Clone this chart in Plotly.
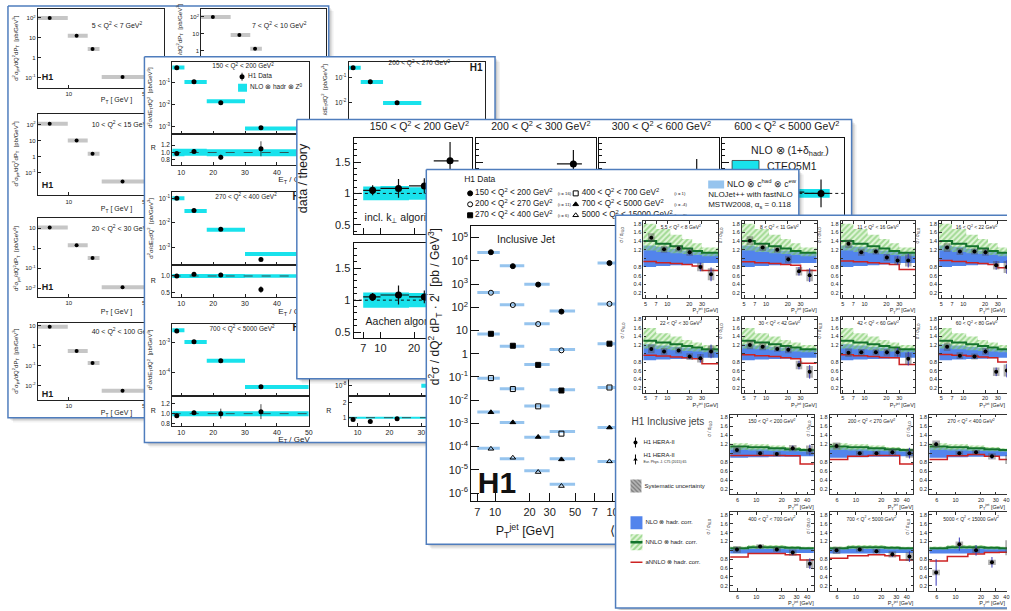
import plotly.graph_objects as go

W, H = 1011, 611
FONT = "Liberation Sans, Arial, Helvetica, sans-serif"
INK = "#1a1a1a"
BORDER = "rgb(79,125,189)"
CYAN = "rgb(25,226,236)"
LIGHTBLUE = "rgb(150,196,238)"
GREY_BAND = "rgb(198,198,198)"
NLO_BLUE = "rgb(82,132,236)"
HATCH_GREEN = "rgb(95,190,75)"
DARK_GREEN = "rgb(20,115,45)"
RED = "rgb(205,35,35)"
ERR_BLUE = "rgb(55,55,185)"

# ---------------- Card 1 : low Q2 jets vs P_T ----------------
C1_PT = [6.7, 11.8, 16.5, 31.0]
C1_PT_LO = [5.2, 9.8, 14.9, 20.0]
C1_PT_HI = [9.8, 14.9, 19.1, 80.0]
C1_XS_5_7 = [100.0, 12.6, 2.8, 0.11]
C1_XS_10_15 = [115.0, 10.0, 1.5, 0.027]
C1_XS_20_30 = [11.0, 1.4, 0.32, 0.011]
C1_XS_40_100 = [9.0, 0.56, 0.14, 0.0056]
C1_XS_7_10 = [100.0, 8.7, 1.3, 0.05]
C1_Q2_LABELS = ["5 < Q<sup>2</sup> < 7 GeV<sup>2</sup>", "10 < Q<sup>2</sup> < 15 GeV<sup>2</sup>",
                "20 < Q<sup>2</sup> < 30 GeV<sup>2</sup>", "40 < Q<sup>2</sup> < 100 GeV<sup>2</sup>",
                "7 < Q<sup>2</sup> < 10 GeV<sup>2</sup>"]
C1_XTICKS = [10, 50]
C1_XTICKTEXT = ["10", "50"]
C1_YTICKS_HI = [0.1, 1, 10, 100]
C1_YTICKTEXT_HI = ["10<sup>-1</sup>", "1", "10", "10<sup>2</sup>"]
C1_YTICKS_LO = [0.01, 0.1, 1, 10]
C1_YTICKTEXT_LO = ["10<sup>-2</sup>", "10<sup>-1</sup>", "1", "10"]

# ---------------- Card 2 : E_T spectra + ratio ----------------
C2_ET = [8.6, 14.0, 22.4, 35.0]
C2_ET_EDGES = [7, 11, 18, 30, 50]
C2_Q2_LABELS = ["150 < Q<sup>2</sup> < 200 GeV<sup>2</sup>", "270 < Q<sup>2</sup> < 400 GeV<sup>2</sup>",
                "700 < Q<sup>2</sup> < 5000 GeV<sup>2</sup>", "200 < Q<sup>2</sup> < 270 GeV<sup>2</sup>"]
C2_XS_150_200 = [0.48, 0.11, 0.0123, 0.00089]
C2_NLO_150_200 = [0.49, 0.107, 0.0141, 0.00081]
C2_R_150_200 = [0.97, 1.03, 0.87, 1.10]
C2_RERR_150_200 = [0.04, 0.05, 0.07, 0.20]
C2_BLO_150_200 = [0.90, 0.91, 0.90, 0.90]
C2_BHI_150_200 = [1.10, 1.10, 1.09, 1.09]
C2_XS_270_400 = [0.10, 0.032, 0.0054, 0.00032]
C2_NLO_270_400 = [0.10, 0.0305, 0.0052, 0.00053]
C2_R_270_400 = [1.00, 1.05, 1.03, 0.60]
C2_RERR_270_400 = [0.03, 0.05, 0.06, 0.10]
C2_BLO_270_400 = [0.94, 0.94, 0.94, 0.95]
C2_BHI_270_400 = [1.06, 1.06, 1.06, 1.05]
C2_XS_700_5000 = [0.0025, 0.00108, 0.00025, 3.4e-5]
C2_NLO_700_5000 = [0.0026, 0.00106, 0.00025, 3.3e-5]
C2_R_700_5000 = [0.96, 1.02, 1.00, 1.04]
C2_RERR_700_5000 = [0.03, 0.04, 0.10, 0.15]
C2_BLO_700_5000 = [0.95, 0.95, 0.95, 0.95]
C2_BHI_700_5000 = [1.05, 1.05, 1.05, 1.05]
C2_XS_200_270 = [0.25, 0.069, 0.010, 0.0008]
C2_NLO_200_270 = [0.25, 0.068, 0.0098, 0.0008]
C2_XS_HIGH = [8e-7, 3e-7, 6e-8, 1e-8]
C2_NLO_HIGH = [8e-7, 3.2e-7, 6e-8, 1e-8]
C2_R_HIGH = [0.87, 0.75, 0.93, 1.00]
C2_RERR_HIGH = [0.05, 0.06, 0.08, 0.20]
C2_BLO_HIGH = [0.93, 0.93, 0.93, 0.93]
C2_BHI_HIGH = [1.07, 1.07, 1.07, 1.07]
C2_XTICKS = [10, 20, 30, 40, 50]
C2_XTICKTEXT = ["10", "20", "30", "40", "50"]
C2_XTICKTEXT_RIGHT = ["10", "20", "30", "", ""]
C2_UPTICKS_A = [0.001, 0.01, 0.1]
C2_UPTICKTEXT_A = ["10<sup>-3</sup>", "10<sup>-2</sup>", "10<sup>-1</sup>"]
C2_UPTICKS_R = [0.01, 0.1]
C2_UPTICKTEXT_R = ["10<sup>-2</sup>", "10<sup>-1</sup>"]
C2_UPTICKS_B = [0.0001, 0.001]
C2_UPTICKTEXT_B = ["10<sup>-4</sup>", "10<sup>-3</sup>"]
C2_UPTICKS_C = [1e-8]
C2_UPTICKTEXT_C = ["10<sup>-8</sup>"]
C2_RTICKS_A = [0.8, 1.0, 1.2]
C2_RTICKTEXT_A = ["0.8", "1.0", "1.2"]
C2_RTICKS_B = [0.5, 1.0]
C2_RTICKTEXT_B = ["0.5", "1.0"]
C2_RTICKS_C = [1, 2]
C2_RTICKTEXT_C = ["1", "2"]

# ---------------- Card 3 : data / theory ----------------
C3_ET = [8.5, 14.5, 24.7, 42.0]
C3_ET_EDGES = [7, 10, 18, 30, 50]
C3_Q2_LABELS = ["150 < Q<sup>2</sup> < 200 GeV<sup>2</sup>", "200 < Q<sup>2</sup> < 300 GeV<sup>2</sup>",
                "300 < Q<sup>2</sup> < 600 GeV<sup>2</sup>", "600 < Q<sup>2</sup> < 5000 GeV<sup>2</sup>"]
C3_KT_150_200 = [1.05, 1.08, 1.12, 1.52]
C3_KTERR_150_200 = [0.08, 0.15, 0.12, 0.30]
C3_KT_200_300 = [1.00, 1.03, 1.06, 1.47]
C3_KTERR_200_300 = [0.06, 0.10, 0.12, 0.22]
C3_KT_300_600 = [1.02, 1.00, 1.05, 1.30]
C3_KTERR_300_600 = [0.05, 0.08, 0.10, 0.25]
C3_KT_600_5000 = [1.00, 0.98, 1.02, 1.00]
C3_KTERR_600_5000 = [0.06, 0.08, 0.12, 0.22]
C3_AA_150_200 = [1.05, 1.08, 1.05, 1.10]
C3_AAERR_150_200 = [0.06, 0.15, 0.10, 0.20]
C3_BAND_LO = [0.89, 0.89, 0.90, 0.91]
C3_BAND_HI = [1.11, 1.12, 1.10, 1.10]
C3_BAND_LO_HQ = [0.93, 0.93, 0.93, 0.93]
C3_BAND_HI_HQ = [1.07, 1.07, 1.07, 1.07]
C3_BAND_LO_AA = [0.88, 0.88, 0.89, 0.90]
C3_BAND_HI_AA = [1.12, 1.12, 1.11, 1.10]
C3_XTICKS = [7, 10, 20, 30, 40, 50]
C3_XTICKTEXT = ["7", "10", "20", "", "", ""]
C3_YTICKS = [0.5, 1.0, 1.5]
C3_YTICKTEXT = ["0.5", "1", "1.5"]

# ---------------- Card 4 : inclusive jet cross sections ----------------
C4_PT = [9.2, 14.3, 23.8, 38.0]
C4_PT_LO = [7, 11, 18, 30]
C4_PT_HI = [11, 18, 30, 50]
C4_S1 = [2.35e4, 5.9e3, 950, 65]
C4_S2 = [424, 125, 19, 1.4]
C4_S3 = [7.2, 2.2, 0.33, 0.026]
C4_S4 = [0.089, 0.030, 0.0054, 3.6e-4]
C4_S5 = [0.0030, 0.0011, 2.6e-4, 2.8e-5]
C4_S6 = [8.0e-5, 3.3e-5, 8.0e-6, 2.0e-6]
C4_T1 = [2.3e4, 6.1e3, 980, 70]
C4_T2 = [430, 128, 19.5, 1.5]
C4_T3 = [7.0, 2.1, 0.34, 0.028]
C4_T4 = [0.088, 0.031, 0.0056, 4.5e-4]
C4_T5 = [0.0031, 0.0011, 2.5e-4, 3.0e-5]
C4_T6 = [8.5e-5, 3.0e-5, 9.0e-6, 2.4e-6]
C4B_PT = [9.4]
C4B_PT_LO = [7.4]
C4B_PT_HI = [11.7]
C4B_VALUES = [8.0e3, 140, 2.7, 0.035, 6.6e-4, 2.3e-5]
C4_LEGEND = ["150 < Q<sup>2</sup> < 200 GeV<sup>2</sup>", "200 < Q<sup>2</sup> < 270 GeV<sup>2</sup>",
             "270 < Q<sup>2</sup> < 400 GeV<sup>2</sup>", "400 < Q<sup>2</sup> < 700 GeV<sup>2</sup>",
             "700 < Q<sup>2</sup> < 5000 GeV<sup>2</sup>", "5000 < Q<sup>2</sup> < 15000 GeV<sup>2</sup>"]
C4_SCALE = ["(i = 16)", "(i = 11)", "(i = 6)", "(i = 1)", "(i = -4)", "(i = -9)"]
C4_XTICKS = [7, 10, 20, 30, 50]
C4_XTICKTEXT = ["7", "10", "20", "30", "50"]
C4B_XTICKS = [7, 10, 20, 30, 50]
C4B_XTICKTEXT = ["7", "10", "", "", ""]
C4_YTICKS = [1e-6, 1e-5, 1e-4, 1e-3, 1e-2, 1e-1, 1, 10, 100, 1e3, 1e4, 1e5]
C4_YTICKTEXT = ["10<sup>-6</sup>", "10<sup>-5</sup>", "10<sup>-4</sup>", "10<sup>-3</sup>", "10<sup>-2</sup>",
                "10<sup>-1</sup>", "1", "10", "10<sup>2</sup>", "10<sup>3</sup>", "10<sup>4</sup>", "10<sup>5</sup>"]

# ---------------- Card 5 : ratios to NLO ----------------
C5_PT_LOW = [6.0, 9.0, 14.3, 20.3, 28.5, 40.0]
C5_EDGES_LOW = [4.5, 7, 11, 16, 22, 30, 50]
C5_PT_HIGH = [5.9, 11.1, 17.5, 27.0, 43.0]
C5_EDGES_HIGH = [4.9, 8, 14, 22, 33, 50]
C5_XTICKS_LOW = [5, 7, 10, 20, 30]
C5_XTICKS_HIGH = [6, 10, 20, 30, 40]
C5_YTICKS = [0.2, 0.4, 0.6, 0.8, 1.0, 1.2, 1.4, 1.6, 1.8]
C5_YTICKTEXT = ["0.2", "0.4", "0.6", "0.8", " ", "1.2", "1.4", "1.6", "1.8"]
C5_Q2_LOW = ["5.5 < Q<sup>2</sup> < 8 GeV<sup>2</sup>", "8 < Q<sup>2</sup> < 11 GeV<sup>2</sup>",
             "11 < Q<sup>2</sup> < 16 GeV<sup>2</sup>", "16 < Q<sup>2</sup> < 22 GeV<sup>2</sup>",
             "22 < Q<sup>2</sup> < 30 GeV<sup>2</sup>", "30 < Q<sup>2</sup> < 42 GeV<sup>2</sup>",
             "42 < Q<sup>2</sup> < 60 GeV<sup>2</sup>", "60 < Q<sup>2</sup> < 80 GeV<sup>2</sup>"]
C5_Q2_HIGH = ["150 < Q<sup>2</sup> < 200 GeV<sup>2</sup>", "200 < Q<sup>2</sup> < 270 GeV<sup>2</sup>",
              "270 < Q<sup>2</sup> < 400 GeV<sup>2</sup>", "400 < Q<sup>2</sup> < 700 GeV<sup>2</sup>",
              "700 < Q<sup>2</sup> < 5000 GeV<sup>2</sup>", "5000 < Q<sup>2</sup> < 15000 GeV<sup>2</sup>"]
C5_R_5_8 = [1.48, 1.21, 1.23, 1.14, 0.80, 0.63]
C5_R_8_11 = [1.41, 1.25, 1.20, 0.98, 0.70, 0.61]
C5_R_11_16 = [1.34, 1.14, 1.16, 1.02, 0.95, 0.95]
C5_R_16_22 = [1.25, 1.16, 1.16, 1.14, 0.84, 0.80]
C5_R_22_30 = [1.11, 1.05, 1.07, 0.93, 0.89, 1.05]
C5_R_30_42 = [1.20, 1.16, 1.11, 1.09, 0.73, 0.57]
C5_R_42_60 = [1.02, 1.03, 1.03, 1.03, 1.03, 0.88]
C5_R_60_80 = [1.16, 0.95, 0.93, 1.05, 0.57, 0.60]
C5_R_150_200 = [1.07, 1.00, 0.98, 1.11, 1.07]
C5_R_200_270 = [1.16, 1.00, 1.00, 1.02, 1.00]
C5_R_270_400 = [1.20, 1.00, 1.02, 0.93, 0.86]
C5_R_400_700 = [1.02, 1.09, 1.02, 0.95, 0.70]
C5_R_700_5000 = [1.00, 1.02, 0.98, 0.91, 0.86]
C5_R_5000_15000 = [0.50, 1.14, 1.00, 0.73, 1.06]
C5_STAT_LOW = [0.03, 0.03, 0.04, 0.06, 0.10, 0.16]
C5_SYS_LOW = [0.10, 0.08, 0.07, 0.08, 0.10, 0.14]
C5_STAT_HIGH = [0.05, 0.03, 0.04, 0.06, 0.12]
C5_SYS_HIGH = [0.08, 0.05, 0.05, 0.07, 0.10]
C5_STAT_5000_15000 = [0.30, 0.15, 0.12, 0.12, 0.30]
C5_SYS_5000_15000 = [0.06, 0.06, 0.06, 0.06, 0.17]
C5_NLO_LO_ROW1 = [0.80, 0.82, 0.84, 0.86, 0.88, 0.89]
C5_NLO_HI_ROW1 = [1.30, 1.27, 1.22, 1.18, 1.15, 1.12]
C5_NNLO_LO_ROW1 = [1.18, 1.15, 1.12, 1.10, 1.08, 1.05]
C5_NNLO_HI_ROW1 = [1.80, 1.68, 1.55, 1.45, 1.35, 1.25]
C5_NNLO_ROW1 = [1.40, 1.34, 1.28, 1.23, 1.17, 1.13]
C5_NLO_LO_ROW2 = [0.84, 0.86, 0.87, 0.88, 0.89, 0.90]
C5_NLO_HI_ROW2 = [1.22, 1.19, 1.16, 1.14, 1.12, 1.10]
C5_NNLO_LO_ROW2 = [1.12, 1.10, 1.08, 1.06, 1.05, 1.03]
C5_NNLO_HI_ROW2 = [1.60, 1.48, 1.40, 1.32, 1.26, 1.20]
C5_NNLO_ROW2 = [1.30, 1.26, 1.22, 1.18, 1.14, 1.10]
C5_NLO_LO_ROW3 = [0.90, 0.91, 0.92, 0.92, 0.93]
C5_NLO_HI_ROW3 = [1.12, 1.10, 1.09, 1.08, 1.07]
C5_NNLO_LO_ROW3 = [1.07, 1.06, 1.05, 1.04, 1.03]
C5_NNLO_HI_ROW3 = [1.22, 1.20, 1.17, 1.14, 1.11]
C5_NNLO_ROW3 = [1.15, 1.13, 1.11, 1.09, 1.07]
C5_NLO_LO_ROW4 = [0.93, 0.93, 0.93, 0.94, 0.94]
C5_NLO_HI_ROW4 = [1.05, 1.05, 1.05, 1.05, 1.04]
C5_NNLO_LO_ROW4 = [1.02, 1.03, 1.03, 1.02, 1.02]
C5_NNLO_HI_ROW4 = [1.09, 1.12, 1.12, 1.10, 1.08]
C5_NNLO_ROW4 = [1.05, 1.07, 1.07, 1.06, 1.05]
C5_ANNLO_5_8 = [0.93, 0.90, 0.88, 0.86, 0.82, 0.72]
C5_ANNLO_8_11 = [0.92, 0.90, 0.88, 0.86, 0.84, 0.72]
C5_ANNLO_11_16 = [0.94, 0.92, 0.90, 0.88, 0.86, 0.74]
C5_ANNLO_16_22 = [0.95, 0.93, 0.90, 0.88, 0.86, 0.78]
C5_ANNLO_22_30 = [0.96, 0.94, 0.92, 0.90, 0.88, 0.76]
C5_ANNLO_30_42 = [0.97, 0.95, 0.93, 0.90, 0.88, 0.77]
C5_ANNLO_42_60 = [0.97, 0.95, 0.93, 0.91, 0.90, 0.74]
C5_ANNLO_60_80 = [0.98, 0.96, 0.94, 0.92, 0.90, 0.80]
C5_ANNLO_150_200 = [0.95, 0.95, 0.95, 0.94, 0.76]
C5_ANNLO_200_270 = [0.86, 0.93, 0.95, 0.95, 0.76]
C5_ANNLO_270_400 = [0.86, 0.94, 0.97, 0.93, 0.86]
C5_ANNLO_400_700 = [0.85, 0.93, 0.93, 0.90, 0.78]
C5_ANNLO_700_5000 = [0.82, 0.88, 0.90, 0.88, 0.78]
C5_ANNLO_5000_15000 = [0.76, 0.86, 0.92, 0.95, 0.96]

# =====================================================================
fig = go.Figure()
_count = [0]


def add_axes(x0, y0, x1, y1, xa, ya):
    _count[0] += 1
    k = _count[0]
    s = "" if k == 1 else str(k)
    xa = dict(xa)
    ya = dict(ya)
    xa.update(domain=[max(0, x0) / W, min(W, x1) / W], anchor="y" + s)
    ya.update(domain=[1 - min(H, y1) / H, 1 - max(0, y0) / H], anchor="x" + s)
    fig.update_layout(**{"xaxis" + s: xa, "yaxis" + s: ya})
    return ("x" + s, "y" + s)


def box_axis(size, ticklen=3, color="#222", mirror=True, labels=True, lw=1, **kw):
    d = dict(showline=True, linecolor=color, linewidth=lw, mirror=mirror, ticks="inside",
             ticklen=ticklen, tickcolor=color, tickwidth=1, showgrid=False, zeroline=False,
             showticklabels=labels, fixedrange=True,
             tickfont=dict(family=FONT, size=size, color="#222"))
    d.update(kw)
    return d


def sc(ref, **kw):
    kw.setdefault("hoverinfo", "skip")
    fig.add_trace(go.Scatter(xaxis=ref[0], yaxis=ref[1], showlegend=False, **kw))


def poly(ref, xs, ys, fill, line=None, pattern=None):
    sc(ref, x=xs + [xs[0]], y=ys + [ys[0]], mode="lines", fill="toself", fillcolor=fill,
       line=line or dict(width=0), fillpattern=pattern)


def txt(ref, x, y, s, size, pos="middle center", color=INK):
    sc(ref, x=[x], y=[y], mode="text", text=[s], textposition=pos, cliponaxis=False,
       textfont=dict(family=FONT, size=size, color=color))


def vtxt(x, y, s, size, color=INK, yanchor="middle"):
    fig.add_annotation(x=x / W, y=1 - y / H, xref="paper", yref="paper", text=s, textangle=-90,
                       showarrow=False, xanchor="center", yanchor=yanchor,
                       font=dict(family=FONT, size=size, color=color))


def hbars(ref, lo, hi, vals, color, width):
    xs, ys = [], []
    for a, b, v in zip(lo, hi, vals):
        xs += [a, b, None]
        ys += [v, v, None]
    sc(ref, x=xs, y=ys, mode="lines", line=dict(color=color, width=width))


def step(ref, edges, vals, color, width):
    sc(ref, x=edges, y=vals + [vals[-1]], mode="lines", line=dict(color=color, width=width, shape="hv"))


def step_band(ref, edges, lo, hi, color, pattern=None):
    sc(ref, x=edges, y=lo + [lo[-1]], mode="lines", line=dict(width=0, shape="hv"))
    sc(ref, x=edges, y=hi + [hi[-1]], mode="lines", line=dict(width=0, shape="hv"),
       fill="tonexty", fillcolor=color, fillpattern=pattern)


def canvas(x0, y0, x1, y1):
    cx0, cy0 = x0 - 2, y0 - 2
    cx1, cy1 = min(x1 + 7, W), min(y1 + 7, H)
    ref = add_axes(cx0, cy0, cx1, cy1, dict(visible=False, range=[cx0, cx1], fixedrange=True),
                   dict(visible=False, range=[cy1, cy0], fixedrange=True))
    for off, a in ((5, 0.05), (3.5, 0.07), (2, 0.10)):
        poly(ref, [x0 + off, x1 + off, x1 + off, x0 + off], [y0 + off, y0 + off, y1 + off, y1 + off],
             "rgba(0,0,0,%s)" % a)
    poly(ref, [x0, x1, x1, x0], [y0, y0, y1, y1], "white", line=dict(color=BORDER, width=1.5))
    return ref


# ============================ CARD 1 ============================
c1 = canvas(8, 5, 330, 418)
C1_ROWS = [(8, 87), (113, 195), (218, 297), (323, 400)]
C1_YRANGES = [[-1.5, 2.45], [-2.44, 2.69], [-2.45, 1.5], [-2.7, 1.15]]
C1_SERIES = [C1_XS_5_7, C1_XS_10_15, C1_XS_20_30, C1_XS_40_100]
C1_YT = [(C1_YTICKS_HI, C1_YTICKTEXT_HI), (C1_YTICKS_HI, C1_YTICKTEXT_HI),
         (C1_YTICKS_LO, C1_YTICKTEXT_LO), (C1_YTICKS_LO, C1_YTICKTEXT_LO)]


def c1_panel(x0, x1, y0, y1, yrange, yt, ytt, xs, xlabels=True):
    ref = add_axes(x0, y0, x1, y1,
                   box_axis(6, labels=xlabels, type="log", range=[0.718, 1.873], tickvals=C1_XTICKS,
                            ticktext=C1_XTICKTEXT),
                   box_axis(6, type="log", range=yrange, tickvals=yt, ticktext=ytt))
    hbars(ref, C1_PT_LO, C1_PT_HI, xs, GREY_BAND, 4)
    sc(ref, x=C1_PT, y=xs, mode="markers", marker=dict(color="black", size=4))


for i in range(4):
    c1_panel(38, 165, C1_ROWS[i][0], C1_ROWS[i][1], C1_YRANGES[i], C1_YT[i][0], C1_YT[i][1], C1_SERIES[i])
c1_panel(202, 327, 8, 87, [-2.18, 2.47], C1_YTICKS_HI, C1_YTICKTEXT_HI, C1_XS_7_10, xlabels=False)

C1_YTITLE = "d<sup>2</sup>σ<sub>jet</sub>/dQ<sup>2</sup>dP<sub>T</sub>  [pb/GeV<sup>3</sup>]"
for i, ly, hy, ty, vy in zip(range(4), [25, 125, 229, 332], [77, 185, 288, 395], [100, 209, 312, 414],
                             [47, 153, 258, 361]):
    txt(c1, 92, ly, C1_Q2_LABELS[i], 7, "middle right")
    txt(c1, 42, hy, "<b>H1</b>", 9, "middle right")
    txt(c1, 117, ty, "P<sub>T</sub> [ GeV ]", 7)
    vtxt(16, vy, C1_YTITLE, 6)
txt(c1, 253, 25, C1_Q2_LABELS[4], 7, "middle right")
vtxt(181, 56, "/dQ<sup>2</sup>dP<sub>T</sub>  [pb/GeV<sup>3</sup>]", 6, yanchor="bottom")

# ============================ CARD 2 ============================
c2 = canvas(145, 56, 497, 443)
C2_XRANGE = [7.2, 50]


def c2_upper(x0, x1, up, yr_up, yt_up, ytt_up, xs, nlo):
    ru = add_axes(x0, up[0], x1, up[1],
                  box_axis(7, labels=False, range=C2_XRANGE, tickvals=C2_XTICKS),
                  box_axis(6.5, type="log", range=yr_up, tickvals=yt_up, ticktext=ytt_up))
    hbars(ru, C2_ET_EDGES[:-1], C2_ET_EDGES[1:], nlo, CYAN, 4)
    sc(ru, x=C2_ET, y=xs, mode="markers", marker=dict(color="black", size=5))


def c2_lower(x0, x1, low, yr_low, yt_low, ytt_low, r, rerr, blo, bhi, xtt):
    rl = add_axes(x0, low[0], x1, low[1],
                  box_axis(7, range=C2_XRANGE, tickvals=C2_XTICKS, ticktext=xtt),
                  box_axis(6.5, range=yr_low, tickvals=yt_low, ticktext=ytt_low))
    step_band(rl, C2_ET_EDGES, blo, bhi, CYAN)
    sc(rl, x=[C2_ET_EDGES[0], C2_ET_EDGES[-1]], y=[1, 1], mode="lines",
       line=dict(color="#333", width=0.8, dash="dash"))
    sc(rl, x=C2_ET, y=r, mode="markers", marker=dict(color="black", size=5),
       error_y=dict(array=rerr, color="#222", thickness=0.8, width=0))


c2_upper(173, 310, (61, 133), [-3.32, -0.045], C2_UPTICKS_A, C2_UPTICKTEXT_A, C2_XS_150_200, C2_NLO_150_200)
c2_lower(173, 310, (133, 165), [0.653, 1.507], C2_RTICKS_A, C2_RTICKTEXT_A, C2_R_150_200, C2_RERR_150_200,
         C2_BLO_150_200, C2_BHI_150_200, C2_XTICKTEXT)
c2_upper(173, 310, (192, 265), [-3.73, -0.755], C2_UPTICKS_A, C2_UPTICKTEXT_A, C2_XS_270_400, C2_NLO_270_400)
c2_lower(173, 310, (265, 297), [0.38, 1.32], C2_RTICKS_B, C2_RTICKTEXT_B, C2_R_270_400, C2_RERR_270_400,
         C2_BLO_270_400, C2_BHI_270_400, C2_XTICKTEXT)
c2_upper(173, 310, (324, 396), [-4.77, -2.37], C2_UPTICKS_B, C2_UPTICKTEXT_B, C2_XS_700_5000, C2_NLO_700_5000)
c2_lower(173, 310, (396, 426), [0.76, 1.36], C2_RTICKS_A, C2_RTICKTEXT_A, C2_R_700_5000, C2_RERR_700_5000,
         C2_BLO_700_5000, C2_BHI_700_5000, C2_XTICKTEXT)
c2_upper(350, 487, (61, 133), [-3.24, -0.36], C2_UPTICKS_R, C2_UPTICKTEXT_R, C2_XS_200_270, C2_NLO_200_270)
c2_upper(350, 487, (324, 396), [-8.33, -5.93], C2_UPTICKS_C, C2_UPTICKTEXT_C, C2_XS_HIGH, C2_NLO_HIGH)
c2_lower(350, 487, (396, 426), [0.47, 2.47], C2_RTICKS_C, C2_RTICKTEXT_C, C2_R_HIGH, C2_RERR_HIGH,
         C2_BLO_HIGH, C2_BHI_HIGH, C2_XTICKTEXT_RIGHT)

txt(c2, 244, 66, C2_Q2_LABELS[0], 6.5)
txt(c2, 247, 197, C2_Q2_LABELS[1], 6.5)
txt(c2, 243, 329, C2_Q2_LABELS[2], 6.5)
txt(c2, 421, 63, C2_Q2_LABELS[3], 6.5)
sc(c2, x=[243], y=[76], mode="markers", marker=dict(color="black", size=5),
   error_y=dict(array=[4], color="black", thickness=0.8, width=0))
txt(c2, 249, 76, "H1 Data", 6.5, "middle right")
poly(c2, [239, 248, 248, 239], [83, 83, 91, 91], CYAN)
txt(c2, 251, 87, "NLO ⊗ hadr ⊗ Z<sup>0</sup>", 6.5, "middle right")
for hx, hy in ((300, 197), (300, 329), (478, 68)):
    txt(c2, hx, hy, "<b>H1</b>", 10)
for rx, ry in ((154, 148), (154, 281), (154, 412), (330, 412)):
    txt(c2, rx, ry, "R", 7)
for ey in (180, 312, 440):
    txt(c2, 311, ey, "E<sub>T</sub> / GeV", 8, "middle left")
C2_YTITLE = "d<sup>2</sup>σ/dE<sub>T</sub>dQ<sup>2</sup>  [pb/GeV<sup>3</sup>]"
for vy in (97, 228, 360):
    vtxt(151, vy, C2_YTITLE, 6)
vtxt(326, 117, "/dE<sub>T</sub>dQ<sup>2</sup>  [pb/GeV<sup>3</sup>]", 6, yanchor="bottom")

# ============================ CARD 3 ============================
c3 = canvas(298, 119, 855, 379)
C3_COLS = [(355, 474), (478, 598), (601, 722), (725, 847)]


def c3_panel(x0, x1, y0, y1, yrange, r, rerr, blo, bhi, xlabels, ylabels):
    ref = add_axes(x0, y0, x1, y1,
                   box_axis(11, ticklen=6, color="#111", labels=xlabels, type="log", range=[0.759, 1.821],
                            tickvals=C3_XTICKS, ticktext=C3_XTICKTEXT),
                   box_axis(11, ticklen=7, color="#111", labels=ylabels, range=yrange,
                            tickvals=C3_YTICKS, ticktext=C3_YTICKTEXT,
                            minor=dict(tickmode="linear", tick0=0, dtick=0.1, ticks="inside",
                                       ticklen=3, tickcolor="#111")))
    step_band(ref, C3_ET_EDGES, blo, bhi, CYAN)
    sc(ref, x=[5, 70], y=[1, 1], mode="lines", line=dict(color="#111", width=1, dash="dot"))
    plus = [b - e for b, e in zip(C3_ET_EDGES[1:], C3_ET)]
    minus = [e - a for a, e in zip(C3_ET_EDGES[:-1], C3_ET)]
    sc(ref, x=C3_ET, y=r, mode="markers", marker=dict(color="black", size=7),
       error_y=dict(array=rerr, color="#111", thickness=1.2, width=0),
       error_x=dict(type="data", symmetric=False, array=plus, arrayminus=minus,
                    color="#111", thickness=1.2, width=0))


c3_panel(*C3_COLS[0], 137, 234, [0.35, 1.89], C3_KT_150_200, C3_KTERR_150_200, C3_BAND_LO, C3_BAND_HI, False, True)
c3_panel(*C3_COLS[1], 137, 234, [0.35, 1.89], C3_KT_200_300, C3_KTERR_200_300, C3_BAND_LO, C3_BAND_HI, False, False)
c3_panel(*C3_COLS[2], 137, 234, [0.35, 1.89], C3_KT_300_600, C3_KTERR_300_600, C3_BAND_LO, C3_BAND_HI, False, False)
c3_panel(*C3_COLS[3], 137, 234, [0.35, 1.89], C3_KT_600_5000, C3_KTERR_600_5000, C3_BAND_LO_HQ,
         C3_BAND_HI_HQ, False, False)
c3_panel(*C3_COLS[0], 243, 338, [0.41, 1.89], C3_AA_150_200, C3_AAERR_150_200, C3_BAND_LO_AA, C3_BAND_HI_AA,
         True, True)

for cx, lab in zip((421, 543, 664, 790), C3_Q2_LABELS):
    txt(c3, cx, 127, lab, 10.5)
txt(c3, 366, 218, "incl. k<sub>⊥</sub> algorithm", 10.5, "middle right")
txt(c3, 367, 322, "Aachen algorithm", 10.5, "middle right")
txt(c3, 793, 151, "NLO ⊗ (1+δ<sub>hadr.</sub>)", 10.5)
poly(c3, [735, 762, 762, 735], [160, 160, 172, 172], CYAN, line=dict(color="#333", width=0.8))
txt(c3, 770, 167, "CTEQ5M1", 10.5, "middle right")
vtxt(305, 178, "data / theory", 12.5)

# ============================ CARD 4 ============================
c4 = canvas(428, 169, 802, 545)
refA = add_axes(473, 226, 590, 502,
                box_axis(11, ticklen=8, color="#111", type="log", range=[0.791, 1.809],
                         tickvals=C4_XTICKS, ticktext=C4_XTICKTEXT),
                box_axis(11, ticklen=8, color="#111", mirror=False, type="log", range=[-6.36, 5.49],
                         tickvals=C4_YTICKS, ticktext=C4_YTICKTEXT))
C4_SERIES = [C4_S1, C4_S2, C4_S3, C4_S4, C4_S5, C4_S6]
C4_THEORY = [C4_T1, C4_T2, C4_T3, C4_T4, C4_T5, C4_T6]
C4_SYMBOLS = ["circle", "circle-open", "square", "square-open", "triangle-up", "triangle-up-open"]
for t in C4_THEORY:
    hbars(refA, C4_PT_LO, C4_PT_HI, t, LIGHTBLUE, 3)
for s, sym in zip(C4_SERIES, C4_SYMBOLS):
    sc(refA, x=C4_PT, y=s, mode="markers",
       marker=dict(symbol=sym, color="black", size=5, line=dict(color="black", width=1)))

refB = add_axes(590, 226, 760, 502,
                box_axis(11, ticklen=8, color="#111", type="log", range=[0.783, 2.26],
                         tickvals=C4B_XTICKS, ticktext=C4B_XTICKTEXT),
                dict(type="log", range=[-6.36, 5.49], visible=False, fixedrange=True))
for v, sym in zip(C4B_VALUES, C4_SYMBOLS):
    hbars(refB, C4B_PT_LO, C4B_PT_HI, [v], LIGHTBLUE, 3)
    sc(refB, x=C4B_PT, y=[v], mode="markers",
       marker=dict(symbol=sym, color="black", size=5, line=dict(color="black", width=1)))

txt(c4, 466, 179, "H1 Data", 8.5, "middle right")
for k in range(6):
    col, row = divmod(k, 3)
    mx, tx, sx = (472, 477, 560) if col == 0 else (578, 584, 677)
    yy = (193, 204, 215)[row]
    sc(c4, x=[mx], y=[yy], mode="markers",
       marker=dict(symbol=C4_SYMBOLS[k], color="black", size=5, line=dict(color="black", width=1)))
    txt(c4, tx, yy, C4_LEGEND[k], 8.2, "middle right")
    txt(c4, sx, yy + 1, C4_SCALE[k], 4.3, "middle right")
poly(c4, [711, 727, 727, 711], [180, 180, 188, 188], LIGHTBLUE)
txt(c4, 730, 184, "NLO ⊗ c<sup>had</sup> ⊗ c<sup>ew</sup>", 8.5, "middle right")
txt(c4, 711, 195, "NLOJet++ with fastNLO", 8, "middle right")
txt(c4, 711, 205, "MSTW2008, α<sub>s</sub> = 0.118", 8, "middle right")
txt(c4, 528, 240, "Inclusive Jet", 10.5)
txt(c4, 499, 486, "<b>H1</b>", 30, color="#111")
txt(c4, 527, 533, "P<sub>T</sub><sup>jet</sup> [GeV]", 12.5)
txt(c4, 615, 533, "⟨", 12.5)
vtxt(437, 307, "d<sup>2</sup>σ / dQ<sup>2</sup> dP<sub>T</sub> · 2<sup>i</sup>  [pb / GeV<sup>3</sup>]", 12)

# ============================ CARD 5 ============================
c5 = canvas(618, 215, 1030, 609)
C5_LOW_COLS = [(646, 721), (745, 820), (844, 919), (943, 1018)]
C5_LOW_ROWS = [(221, 298), (317, 393)]
C5_HIGH_COLS = [(733, 817), (833, 917), (933, 1017)]
C5_HIGH_ROWS = [(415, 495), (513, 592)]
C5_YR = [0.08, 1.86]
HATCH = dict(shape="/", fgcolor=HATCH_GREEN, bgcolor="rgba(185,232,165,0.40)", size=4, solidity=0.5)


def c5_panel(x0, x1, y0, y1, xr, xticks, edges, pt, r, stat, sys, nlo_lo, nlo_hi, nn_lo, nn_hi, nn_c,
             annlo, title):
    right, ymirror = x1, "ticks"
    if x1 > W:
        xr = [xr[0], xr[0] + (W - x0) / (x1 - x0) * (xr[1] - xr[0])]
        right, ymirror = W, False
    ref = add_axes(x0, y0, right, y1,
                   box_axis(5.5, ticklen=2.5, color="#333", mirror="ticks", lw=1.2, type="log", range=xr,
                            tickvals=xticks, ticktext=[str(v) for v in xticks]),
                   box_axis(5.5, ticklen=2.5, color="#333", mirror=ymirror, lw=1.2, range=C5_YR,
                            tickvals=C5_YTICKS, ticktext=C5_YTICKTEXT))
    step_band(ref, edges, nlo_lo, nlo_hi, NLO_BLUE)
    step_band(ref, edges, nn_lo, nn_hi, "rgba(185,232,165,0.40)", pattern=HATCH)
    step(ref, edges, nn_c, DARK_GREEN, 2)
    step(ref, edges, annlo, RED, 1.5)
    bx, by = [], []
    for p, v, s in zip(pt, r, sys):
        a, b = p / 10 ** 0.045, p * 10 ** 0.045
        bx += [a, b, b, a, a, None]
        by += [v - s, v - s, v + s, v + s, v - s, None]
    sc(ref, x=bx, y=by, mode="lines", fill="toself", fillcolor="rgba(80,80,80,0.45)", line=dict(width=0))
    sc(ref, x=pt, y=r, mode="markers", marker=dict(color="black", size=4),
       error_y=dict(array=stat, color=ERR_BLUE, thickness=1, width=0))
    txt(c5, (x0 + x1) / 2, y0 + 7, title, 5)
    txt(c5, min(x1, W - 2), y1 + 13, "P<sub>T</sub><sup>jet</sup> [GeV]", 5.5, "middle left")
    vtxt(x0 - 21, y0 + 14, "σ / σ<sub>NLO</sub>", 4.5)


LOW_R = [C5_R_5_8, C5_R_8_11, C5_R_11_16, C5_R_16_22, C5_R_22_30, C5_R_30_42, C5_R_42_60, C5_R_60_80]
LOW_AN = [C5_ANNLO_5_8, C5_ANNLO_8_11, C5_ANNLO_11_16, C5_ANNLO_16_22,
          C5_ANNLO_22_30, C5_ANNLO_30_42, C5_ANNLO_42_60, C5_ANNLO_60_80]
LOW_TH = [(C5_NLO_LO_ROW1, C5_NLO_HI_ROW1, C5_NNLO_LO_ROW1, C5_NNLO_HI_ROW1, C5_NNLO_ROW1),
          (C5_NLO_LO_ROW2, C5_NLO_HI_ROW2, C5_NNLO_LO_ROW2, C5_NNLO_HI_ROW2, C5_NNLO_ROW2)]
for k in range(8):
    row, col = divmod(k, 4)
    x0, x1 = C5_LOW_COLS[col]
    y0, y1 = C5_LOW_ROWS[row]
    c5_panel(x0, x1, y0, y1, [0.67, 1.70], C5_XTICKS_LOW, C5_EDGES_LOW, C5_PT_LOW, LOW_R[k],
             C5_STAT_LOW, C5_SYS_LOW, *LOW_TH[row], LOW_AN[k], C5_Q2_LOW[k])

HIGH_R = [C5_R_150_200, C5_R_200_270, C5_R_270_400, C5_R_400_700, C5_R_700_5000, C5_R_5000_15000]
HIGH_AN = [C5_ANNLO_150_200, C5_ANNLO_200_270, C5_ANNLO_270_400, C5_ANNLO_400_700, C5_ANNLO_700_5000,
           C5_ANNLO_5000_15000]
HIGH_TH = [(C5_NLO_LO_ROW3, C5_NLO_HI_ROW3, C5_NNLO_LO_ROW3, C5_NNLO_HI_ROW3, C5_NNLO_ROW3),
           (C5_NLO_LO_ROW4, C5_NLO_HI_ROW4, C5_NNLO_LO_ROW4, C5_NNLO_HI_ROW4, C5_NNLO_ROW4)]
for k in range(6):
    row, col = divmod(k, 3)
    x0, x1 = C5_HIGH_COLS[col]
    y0, y1 = C5_HIGH_ROWS[row]
    stat = C5_STAT_5000_15000 if k == 5 else C5_STAT_HIGH
    sys = C5_SYS_5000_15000 if k == 5 else C5_SYS_HIGH
    c5_panel(x0, x1, y0, y1, [0.69, 1.68], C5_XTICKS_HIGH, C5_EDGES_HIGH, C5_PT_HIGH, HIGH_R[k],
             stat, sys, *HIGH_TH[row], HIGH_AN[k], C5_Q2_HIGH[k])

# legend of card 5
txt(c5, 634, 423, "H1 Inclusive jets", 10, "middle right", color="#444")
sc(c5, x=[638], y=[443], mode="markers", marker=dict(color="black", size=4),
   error_y=dict(array=[5], color="black", thickness=1, width=0))
txt(c5, 646, 443, "H1 HERA-II", 6, "middle right")
sc(c5, x=[638], y=[460], mode="markers", marker=dict(symbol="triangle-up", color="black", size=4),
   error_y=dict(array=[5], color="black", thickness=1, width=0))
txt(c5, 646, 456, "H1 HERA-II", 6, "middle right")
txt(c5, 646, 463, "Eur. Phys. J. C75 (2015) 65", 3.5, "middle right")
poly(c5, [633, 644, 644, 633], [480, 480, 493, 493], "rgba(120,120,120,0.7)",
     pattern=dict(shape="\\", fgcolor="rgb(60,60,60)", bgcolor="rgba(150,150,150,0.7)", size=3, solidity=0.4))
txt(c5, 647, 487, "Systematic uncertainty", 6, "middle right")
poly(c5, [633, 645, 645, 633], [517, 517, 530, 530], NLO_BLUE)
txt(c5, 648, 523, "NLO ⊗ hadr. corr.", 6, "middle right")
poly(c5, [633, 645, 645, 633], [535, 535, 551, 551], "rgba(185,232,165,0.40)", pattern=HATCH)
sc(c5, x=[633, 645], y=[543, 543], mode="lines", line=dict(color=DARK_GREEN, width=2.5))
txt(c5, 648, 543, "NNLO ⊗ hadr. corr.", 6, "middle right")
sc(c5, x=[633, 645], y=[563, 563], mode="lines", line=dict(color=RED, width=1.5))
txt(c5, 648, 563, "aNNLO ⊗ hadr. corr.", 6, "middle right")

fig.update_layout(width=W, height=H, margin=dict(l=0, r=0, t=0, b=0), paper_bgcolor="white",
                  plot_bgcolor="rgba(0,0,0,0)", showlegend=False, font=dict(family=FONT))
fig.write_html("out.html", config={"displayModeBar": False})
